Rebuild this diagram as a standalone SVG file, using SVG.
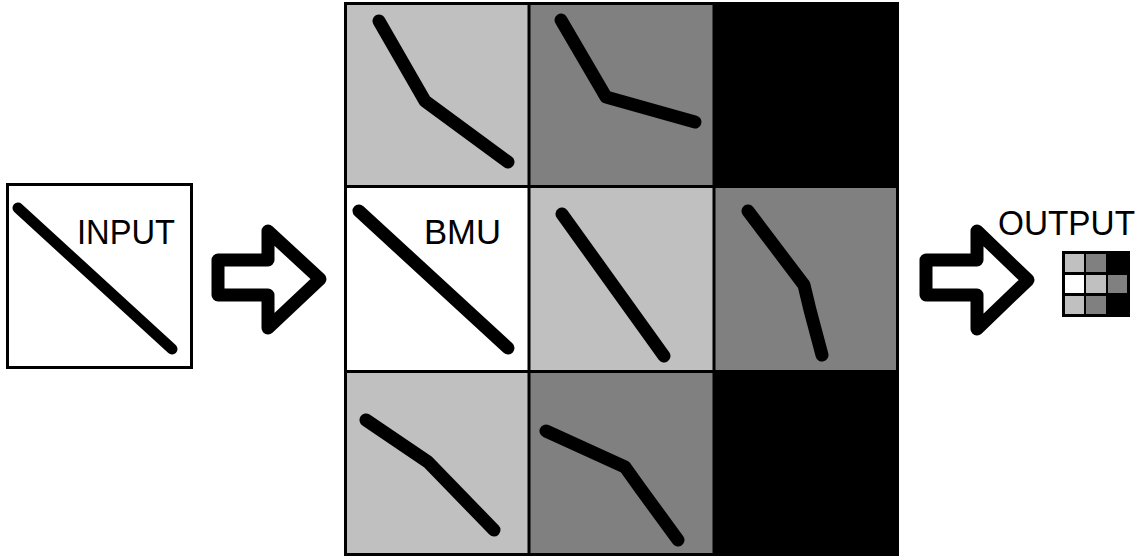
<svg xmlns="http://www.w3.org/2000/svg" width="1143" height="560" viewBox="0 0 1143 560">
<style>
.lg{fill:#c0c0c0}.dg{fill:#808080}.bk{fill:#000}.wh{fill:#fff}
.stroke{fill:none;stroke:#000;stroke-width:13;stroke-linecap:round;stroke-linejoin:round}
.grid{stroke:#000;stroke-width:3;fill:none}
.lbl{font-family:"Liberation Sans",Arial,sans-serif;font-size:35px;fill:#000}
.arrow{fill:#fff;stroke:#000;stroke-width:13;stroke-linejoin:round}
</style>
<rect width="1143" height="560" fill="#fff"/>
<g id="input">
<rect x="7.5" y="184.5" width="184" height="183" fill="#fff" stroke="#000" stroke-width="3"/>
<line x1="18" y1="208" x2="172" y2="349" stroke="#000" stroke-width="11" stroke-linecap="round"/>
<text class="lbl" x="77" y="244" textLength="98" lengthAdjust="spacingAndGlyphs">INPUT</text>
</g>
<g id="connectors">
<polygon class="arrow" points="218,260 268,260 268,231 320,279 268,328 268,295 218,295"/>
<polygon class="arrow" points="926,260 977,260 977,231 1028,280 977,329 977,295 926,295"/>
</g>
<g id="som">
<rect class="lg" x="345" y="3" width="184" height="184"/>
<rect class="dg" x="529" y="3" width="185" height="184"/>
<rect class="bk" x="714" y="3" width="184" height="184"/>
<rect class="wh" x="345" y="187" width="184" height="185"/>
<rect class="lg" x="529" y="187" width="185" height="185"/>
<rect class="dg" x="714" y="187" width="184" height="185"/>
<rect class="lg" x="345" y="372" width="184" height="183"/>
<rect class="dg" x="529" y="372" width="185" height="183"/>
<rect class="bk" x="714" y="372" width="184" height="183"/>
<path class="grid" d="M345.5,3.5H897.5V554.5H345.5Z M529,3.5V554.5 M714,3.5V554.5 M345.5,186.5H897.5 M345.5,371.5H897.5"/>
<polyline class="stroke" points="379,21 425,101 508,162"/>
<polyline class="stroke" points="561,20 606,97 695,122"/>
<polyline class="stroke" points="359,211 508,348"/>
<polyline class="stroke" points="562,214 664,356"/>
<polyline class="stroke" points="748,211 804,285 810,310 822,355"/>
<polyline class="stroke" points="366,420 428,462 494,530"/>
<polyline class="stroke" points="546,431 625,467 640,488 678,540"/>
<text class="lbl" x="424" y="244" textLength="77" lengthAdjust="spacingAndGlyphs">BMU</text>
</g>
<g id="output">
<text class="lbl" x="998" y="235" textLength="137" lengthAdjust="spacingAndGlyphs">OUTPUT</text>
<rect x="1062" y="251" width="68" height="66" fill="#000"/>
<rect class="lg" x="1065" y="254" width="19" height="18"/>
<rect class="dg" x="1086" y="254" width="20" height="18"/>
<rect class="wh" x="1065" y="275" width="19" height="18"/>
<rect class="lg" x="1086" y="275" width="20" height="18"/>
<rect class="dg" x="1108" y="275" width="19" height="18"/>
<rect class="lg" x="1065" y="296" width="19" height="18"/>
<rect class="dg" x="1086" y="296" width="20" height="18"/>
</g>
</svg>
